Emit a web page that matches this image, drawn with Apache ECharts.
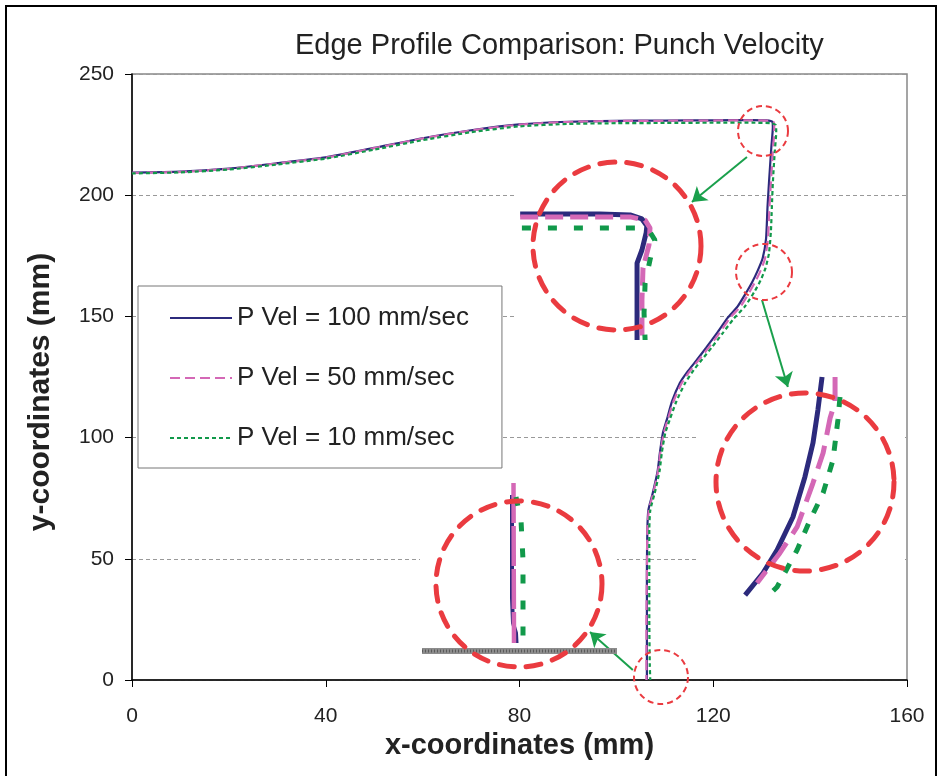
<!DOCTYPE html>
<html>
<head>
<meta charset="utf-8">
<title>Edge Profile Comparison: Punch Velocity</title>
<script src="https://cdn.jsdelivr.net/npm/echarts@6/dist/echarts.min.js"></script>
<style>
  html, body { margin: 0; padding: 0; background: #fff; }
  #chart { width: 939px; height: 776px; }
</style>
</head>
<body>
<div id="chart"></div>
<script>
// legend names and axis ticks
const seriesNames = ["P Vel = 100 mm/sec", "P Vel = 50 mm/sec", "P Vel = 10 mm/sec"];
const xTicks = [0, 40, 80, 120, 160];
const yTicks = [0, 50, 100, 150, 200, 250];

// edge profiles, [x, y] in mm
const vel100 = [
  [0, 209.3], [10, 209.7], [20, 211], [30, 213.2], [40, 215.6], [50, 219.5], [60, 223.5],
  [70, 226.8], [80, 229.2], [90, 230.3], [100, 230.7], [110, 230.8], [120, 230.9], [128, 231],
  [131, 230.9], [132.2, 230.3], [132.3, 228], [132, 220], [131.5, 205], [131.2, 195],
  [130.9, 182], [130.2, 174], [129.2, 169], [128, 164], [127, 160.5], [125, 154], [123, 149.5],
  [120.8, 143.2], [118.5, 137], [116.6, 132], [114.8, 127.5], [113.1, 122.5], [111.5, 115],
  [110.4, 107.3], [109.6, 101.9], [109, 94], [108.5, 86], [107.5, 77], [106.6, 70], [106.4, 62],
  [106.3, 45], [106.3, 25], [106.3, 0]
];
const vel50 = [
  [0, 209.2], [10, 209.6], [20, 210.9], [30, 213.1], [40, 215.5], [50, 219.4], [60, 223.4],
  [70, 226.7], [80, 229.1], [90, 230.2], [100, 230.6], [110, 230.7], [120, 230.8], [128, 230.9],
  [131.3, 230.8], [132.5, 230.1], [132.6, 227], [132.3, 218], [131.9, 205], [131.6, 195],
  [131.3, 182], [130.7, 174], [129.8, 169], [128.6, 164], [127.6, 160.5], [125.6, 154], [123.5, 149.5],
  [121.3, 143.2], [119, 137], [117, 132], [115.2, 127.5], [113.5, 122.5], [111.8, 115],
  [110.6, 107.3], [109.8, 101.9], [109.1, 94], [108.6, 86], [107.6, 77], [106.7, 70], [106.4, 62],
  [106.3, 45], [106.2, 25], [106.2, 0]
];
const vel10 = [
  [0, 209], [10, 209.4], [20, 210.6], [30, 212.7], [40, 215.1], [50, 218.8], [60, 222.7],
  [70, 226], [80, 228.4], [90, 229.4], [100, 229.7], [110, 229.8], [120, 229.9], [128, 229.9],
  [131.8, 229.7], [132.9, 229], [133, 226], [132.7, 218], [132.3, 205], [132.1, 195],
  [131.9, 185], [131.5, 176], [130.8, 170], [129.8, 165], [128.6, 160.5], [126.5, 154], [124.2, 149],
  [122, 143.2], [119.8, 137.5], [117.8, 132.5], [116, 128], [114.2, 122.5], [112.4, 115],
  [111, 107.3], [110.1, 101.9], [109.4, 94], [108.9, 86], [107.9, 77], [107, 70], [106.8, 62],
  [106.8, 45], [106.8, 25], [106.9, 6], [107, 0]
];

// zoomed view 1: top corner
const corner100 = [[127.79, 230.8], [130.07, 230.8], [130.93, 230.76], [131.27, 230.58], [131.41, 230.27],
  [131.39, 229.96], [131.27, 229.2], [131.13, 228.62], [131.13, 225.2]];
const corner50 = [[127.79, 230.67], [130.93, 230.67], [131.36, 230.53], [131.5, 230.18], [131.47, 229.42],
  [131.3, 228.4], [131.27, 226.98], [131.27, 225.2]];
const corner10 = [[127.84, 230.18], [131.21, 230.18], [131.5, 230], [131.64, 229.64], [131.5, 228.76],
  [131.36, 227.73], [131.33, 226.4], [131.36, 225.2]];

// zoomed view 2: curved wall
const bend100 = [[128.81, 174.39], [128.65, 171.52], [128.46, 168.65], [128.15, 165.7], [127.69, 162.22],
  [127.08, 159.35], [126.54, 157.35], [125.85, 155.43]];
const bend50 = [[129.31, 174.39], [129.31, 172.22], [129.12, 170.83], [128.85, 167.78], [128.46, 165.17],
  [127.85, 161.35], [127.19, 159.09], [126.31, 156.48]];
const bend10 = [[129.5, 172.65], [129.42, 170.65], [129.23, 167.17], [128.85, 164.3], [128.35, 161.96],
  [127.85, 159.35], [127.08, 156.13], [126.69, 155.26]];

// zoomed view 3: bottom of the wall and the die
const base100 = [[105.84, 14.3], [105.84, 4], [105.86, 1.5], [105.92, 0.5], [105.93, -0.5]];
const base50 = [[105.87, 15.5], [105.88, -0.5]];
const base10 = [[105.92, 14.1], [105.94, 13.6], [106.02, 11.8], [106.06, 7.8], [106.06, -0.5]];
const dieLine = [[104.04, -1.3], [107.94, -1.3]];

// pointer arrows, [from, to] in mm
const arrows = [
  [[126.96, 215.8], [115.6, 197.2]],
  [[130.06, 156.8], [135.4, 120.9]],
  [[103.4, 4.1], [94.55, 19.8]]
];

const colors = ["#2c2a7c", "#d468b6", "#11994a"];
const red = "#ea3b40";
const font = "Liberation Sans, Arial, sans-serif";

const chart = echarts.init(document.getElementById("chart"));

const hidden = { show: false };
function insetAxes(idx, xr, yr) {
  return [
    { type: "value", gridIndex: idx, min: xr[0], max: xr[1], show: false },
    { type: "value", gridIndex: idx, min: yr[0], max: yr[1], show: false }
  ];
}
const ix = [insetAxes(1, [127.5, 133.5], [225.2, 233.2]), insetAxes(2, [124, 132], [155, 175]), insetAxes(3, [104, 108], [-2, 16])];

function insetLine(name, idx, data, color, width, dash) {
  return {
    name: name, type: "line", xAxisIndex: idx, yAxisIndex: idx, data: data,
    symbol: "none", silent: true, z: 5,
    lineStyle: { color: color, width: width, type: dash || "solid" }
  };
}

function mainLine(i, data, dash) {
  return {
    name: seriesNames[i], type: "line", data: data, symbol: "none", smooth: 0.2,
    itemStyle: { color: colors[i] },
    lineStyle: { color: colors[i], width: 2.2, type: dash }
  };
}

function circle(cx, cy, r, big) {
  return {
    type: "circle", z: 6, silent: true,
    shape: { cx: cx, cy: cy, r: r },
    style: {
      fill: "none", stroke: red, lineWidth: big ? 5 : 2,
      lineDash: big ? [15, 12] : [6, 4], lineCap: big ? "round" : "butt"
    }
  };
}
function whiteBox(x, y, w, h) {
  return { type: "rect", z: 3, silent: true, shape: { x: x, y: y, width: w, height: h }, style: { fill: "#fff" } };
}

const option = {
  animation: false,
  backgroundColor: "#fff",
  title: {
    text: "Edge Profile Comparison: Punch Velocity",
    left: 290, top: 26,
    textStyle: { fontFamily: font, fontSize: 29, fontWeight: "normal", color: "#222" }
  },
  legend: {
    data: seriesNames,
    orient: "vertical", left: 138, top: 286,
    itemWidth: 62, itemHeight: 14, itemGap: 34,
    padding: [19, 33, 17, 31],
    itemStyle: { opacity: 0 },
    backgroundColor: "#fff", borderColor: "#777", borderWidth: 1,
    textStyle: { fontFamily: font, fontSize: 26, color: "#222" }
  },
  grid: [
    { left: 132, right: 32, top: 74, bottom: 96, show: true, borderColor: "#888", borderWidth: 1.5 },
    { left: 510, top: 160, width: 210, height: 180 },
    { left: 697, top: 370, width: 208, height: 230 },
    { left: 420, top: 478, width: 200, height: 180 }
  ],
  xAxis: [
    {
      type: "value", min: xTicks[0], max: xTicks[xTicks.length - 1], interval: xTicks[1] - xTicks[0],
      name: "x-coordinates (mm)", nameLocation: "middle", nameGap: 44,
      nameTextStyle: { fontFamily: font, fontSize: 29, fontWeight: "bold", color: "#222" },
      axisLine: { lineStyle: { color: "#000", width: 1.5 } },
      axisTick: { length: 7, lineStyle: { color: "#000" } },
      axisLabel: { fontFamily: font, fontSize: 21, color: "#222", margin: 26 },
      splitLine: hidden
    },
    ix[0][0], ix[1][0], ix[2][0]
  ],
  yAxis: [
    {
      type: "value", min: yTicks[0], max: yTicks[yTicks.length - 1], interval: yTicks[1] - yTicks[0],
      name: "y-coordinates (mm)", nameLocation: "middle", nameGap: 76, nameRotate: 90,
      nameTextStyle: { fontFamily: font, fontSize: 30, fontWeight: "bold", color: "#222", padding: [0, 30, 0, 0] },
      axisLine: { show: true, lineStyle: { color: "#000", width: 1.5 } },
      axisTick: { show: true, length: 7, lineStyle: { color: "#000" } },
      axisLabel: { fontFamily: font, fontSize: 21, color: "#222", margin: 18 },
      splitLine: { show: true, lineStyle: { color: "#999", width: 1, type: [4, 3] } }
    },
    ix[0][1], ix[1][1], ix[2][1]
  ],
  series: [
    mainLine(0, vel100, "solid"),
    mainLine(1, vel50, [10, 5]),
    mainLine(2, vel10, [4, 3]),
    insetLine(seriesNames[0], 1, corner100, colors[0], 5),
    insetLine(seriesNames[1], 1, corner50, colors[1], 5, [18, 7]),
    insetLine(seriesNames[2], 1, corner10, colors[2], 5, [9, 17]),
    insetLine(seriesNames[0], 2, bend100, colors[0], 5),
    insetLine(seriesNames[1], 2, bend50, colors[1], 5, [24, 11]),
    insetLine(seriesNames[2], 2, bend10, colors[2], 5, [10, 12]),
    insetLine("die", 3, dieLine, "#8c8c8c", 6),
    insetLine("die", 3, dieLine, "#5a5a5a", 3, [1, 2]),
    insetLine(seriesNames[0], 3, base100, colors[0], 4),
    insetLine(seriesNames[1], 3, base50, colors[1], 4.5, [40, 3]),
    insetLine(seriesNames[2], 3, base10, colors[2], 5, [9, 17]),
    {
      // arrows pointing at the zoomed views
      type: "line", data: [], z: 6, silent: true,
      markLine: {
        silent: true, symbol: ["none", "arrow"], symbolSize: 14,
        label: hidden,
        lineStyle: { color: "#1aa04c", width: 2, type: "solid" },
        data: arrows.map(a => [{ coord: a[0] }, { coord: a[1] }])
      }
    }
  ],
  graphic: [
    { type: "rect", z: 10, silent: true, shape: { x: 6, y: 6, width: 930, height: 800 },
      style: { fill: "none", stroke: "#000", lineWidth: 2 } },
    whiteBox(515, 155, 203, 183),
    whiteBox(697, 370, 208, 232),
    whiteBox(420, 478, 197, 190),
    circle(617, 246, 84, true),
    circle(805, 482, 89, true),
    circle(519, 584, 83, true),
    circle(763, 131, 25, false),
    circle(764, 272, 28, false),
    circle(661, 677, 27, false)
  ]
};

chart.setOption(option);
window.addEventListener("resize", function () {
  chart.resize();
});
</script>
</body>
</html>
